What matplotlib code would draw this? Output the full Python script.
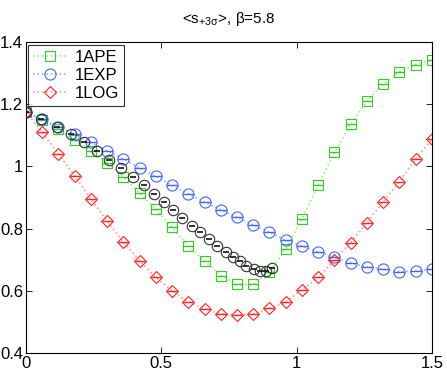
import matplotlib
matplotlib.use("Agg")
import matplotlib.pyplot as plt

plt.rcParams["font.family"] = ["Liberation Sans", "DejaVu Sans"]
plt.rcParams["mathtext.fontset"] = "custom"
plt.rcParams["mathtext.rm"] = "Liberation Sans"
plt.rcParams["mathtext.it"] = "Liberation Sans"

# shared x grid for the three main series
x = [0.00, 0.06, 0.12, 0.18, 0.24, 0.30, 0.36, 0.42, 0.48, 0.54, 0.60, 0.66, 0.72,
     0.78, 0.84, 0.90, 0.96, 1.02, 1.08, 1.14, 1.20, 1.26, 1.32, 1.38, 1.44, 1.50]

ape = [1.175, 1.150, 1.119, 1.085, 1.049, 1.012, 0.965, 0.915, 0.862, 0.804, 0.744, 0.696, 0.649,
       0.621, 0.621, 0.660, 0.734, 0.831, 0.940, 1.045, 1.136, 1.210, 1.265, 1.304, 1.327, 1.343]

exp_ = [1.175, 1.151, 1.128, 1.103, 1.077, 1.050, 1.024, 0.995, 0.968, 0.939, 0.912, 0.885, 0.861,
        0.836, 0.812, 0.788, 0.763, 0.744, 0.725, 0.708, 0.690, 0.677, 0.669, 0.662, 0.663, 0.670]

log_ = [1.175, 1.110, 1.040, 0.970, 0.895, 0.825, 0.757, 0.697, 0.643, 0.600, 0.565, 0.542, 0.526,
        0.522, 0.525, 0.544, 0.565, 0.603, 0.643, 0.699, 0.755, 0.819, 0.886, 0.951, 1.024, 1.087]

# black reference points (own x positions)
xk = [0.000, 0.054, 0.116, 0.165, 0.214, 0.263, 0.308, 0.353, 0.396, 0.436, 0.474, 0.510, 0.544,
      0.578, 0.612, 0.645, 0.676, 0.707, 0.738, 0.766, 0.791, 0.815, 0.842, 0.864, 0.887, 0.910]
yk = [1.176, 1.152, 1.126, 1.103, 1.077, 1.050, 1.021, 0.994, 0.967, 0.940, 0.911, 0.885, 0.860,
      0.835, 0.809, 0.788, 0.766, 0.744, 0.726, 0.710, 0.696, 0.681, 0.669, 0.664, 0.665, 0.672]

fig = plt.figure(figsize=(4.47, 3.72), dpi=100)
ax = fig.add_axes([0.058, 0.051, 0.908, 0.836])

series = [
    (ape, "1APE", "s", "#33cc22", "#99ee88", 7),
    (exp_, "1EXP", "o", "#4466ff", "#99aaff", 8),
    (log_, "1LOG", "D", "#ff2222", "#ff9999", 6.5),
]
for ys, lab, mk, col, lcol, ms in series:
    ax.plot(x, ys, linestyle=":", color=lcol, lw=1.2, zorder=1)
    ax.plot(x, ys, linestyle="none", marker=mk, ms=ms, mfc="none", mec=col, mew=0.8, zorder=2)
    ax.plot(x, ys, linestyle="none", marker="_", ms=ms, mec=col, mew=1.0, zorder=2)

ax.plot(xk, yk, linestyle="none", marker="o", ms=7.5, mfc="none", mec="#333333", mew=0.8, zorder=3)
ax.plot(xk, yk, linestyle="none", marker="_", ms=4, mec="#111111", mew=1.2, zorder=3)

# legend handles: dotted line + marker
handles = []
for ys, lab, mk, col, lcol, ms in series:
    h, = ax.plot([], [], linestyle=":", color=lcol, lw=1.2, marker=mk, ms=ms,
                 mfc="none", mec=col, mew=0.8, label=lab)
    handles.append(h)
leg = ax.legend(handles=handles, loc="upper left", fontsize=12, frameon=True, fancybox=False,
                edgecolor="black", borderaxespad=0.15, handlelength=2.0, labelspacing=0.2,
                borderpad=0.3, handletextpad=0.5)
leg.get_frame().set_linewidth(0.8)

ax.set_xlim(0, 1.5)
ax.set_ylim(0.4, 1.4)
ax.set_xticks([0, 0.5, 1, 1.5])
ax.set_xticklabels(["0", "0.5", "1", "1.5"])
ax.set_yticks([0.4, 0.6, 0.8, 1.0, 1.2, 1.4])
ax.set_yticklabels(["0.4", "0.6", "0.8", "1", "1.2", "1.4"])
ax.tick_params(direction="in", top=True, right=True, labelsize=12, length=4, width=0.6, pad=2)
for s in ax.spines.values():
    s.set_linewidth(0.8)

ax.set_title(r"<s$_{+3\sigma}$>, β=5.8", fontsize=11, pad=14)

fig.savefig("out.png", dpi=100)
